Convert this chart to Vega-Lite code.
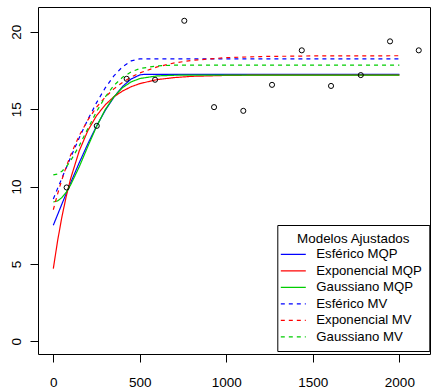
{
  "$schema": "https://vega.github.io/schema/vega-lite/v6.json",
  "width": 392,
  "height": 347,
  "autosize": {"type": "none"},
  "padding": {"left": 38, "top": 7, "right": 1, "bottom": 38},
  "background": "white",
  "config": {
    "view": {"stroke": "black", "strokeWidth": 1},
    "font": "Liberation Sans",
    "axis": {
      "grid": false, "domain": false, "ticks": true, "tickColor": "black", "tickSize": 8, "tickWidth": 1,
      "labelFont": "Liberation Sans", "labelFontSize": 13.5, "labelColor": "black", "title": null
    },
    "legend": {
      "orient": "none", "legendX": 239.3, "legendY": 218,
      "strokeColor": "black", "fillColor": "white", "padding": 7,
      "titleFont": "Liberation Sans", "titleFontSize": 13.4, "titleFontWeight": "normal", "titleColor": "black",
      "titleAnchor": "middle",
      "labelFont": "Liberation Sans", "labelColor": "black", "labelLimit": 200,
      "symbolType": "M-2,0H2", "symbolSize": 156, "symbolStrokeWidth": 1.3
    }
  },
  "datasets": {
    "points": [
      {"h": 77, "g": 9.94}, {"h": 251, "g": 13.92}, {"h": 424, "g": 16.96}, {"h": 588, "g": 16.9},
      {"h": 757, "g": 20.71}, {"h": 929, "g": 15.13}, {"h": 1098, "g": 14.89}, {"h": 1264, "g": 16.57},
      {"h": 1436, "g": 18.8}, {"h": 1605, "g": 16.5}, {"h": 1777, "g": 17.2}, {"h": 1946, "g": 19.38},
      {"h": 2112, "g": 18.8}
    ],
    "curves": [
      {"model": "Esférico MQP", "h": 0, "g": 7.5},
      {"model": "Esférico MQP", "h": 25, "g": 8.19},
      {"model": "Esférico MQP", "h": 50, "g": 8.88},
      {"model": "Esférico MQP", "h": 75, "g": 9.56},
      {"model": "Esférico MQP", "h": 100, "g": 10.24},
      {"model": "Esférico MQP", "h": 150, "g": 11.54},
      {"model": "Esférico MQP", "h": 200, "g": 12.77},
      {"model": "Esférico MQP", "h": 250, "g": 13.91},
      {"model": "Esférico MQP", "h": 300, "g": 14.92},
      {"model": "Esférico MQP", "h": 350, "g": 15.77},
      {"model": "Esférico MQP", "h": 400, "g": 16.46},
      {"model": "Esférico MQP", "h": 450, "g": 16.95},
      {"model": "Esférico MQP", "h": 500, "g": 17.21},
      {"model": "Esférico MQP", "h": 528, "g": 17.25},
      {"model": "Esférico MQP", "h": 2000, "g": 17.25},

      {"model": "Exponencial MQP", "h": 0, "g": 4.7},
      {"model": "Exponencial MQP", "h": 25, "g": 6.51},
      {"model": "Exponencial MQP", "h": 50, "g": 8.06},
      {"model": "Exponencial MQP", "h": 75, "g": 9.38},
      {"model": "Exponencial MQP", "h": 100, "g": 10.51},
      {"model": "Exponencial MQP", "h": 150, "g": 12.31},
      {"model": "Exponencial MQP", "h": 200, "g": 13.62},
      {"model": "Exponencial MQP", "h": 250, "g": 14.58},
      {"model": "Exponencial MQP", "h": 300, "g": 15.28},
      {"model": "Exponencial MQP", "h": 350, "g": 15.8},
      {"model": "Exponencial MQP", "h": 400, "g": 16.17},
      {"model": "Exponencial MQP", "h": 450, "g": 16.45},
      {"model": "Exponencial MQP", "h": 500, "g": 16.65},
      {"model": "Exponencial MQP", "h": 600, "g": 16.91},
      {"model": "Exponencial MQP", "h": 700, "g": 17.04},
      {"model": "Exponencial MQP", "h": 800, "g": 17.12},
      {"model": "Exponencial MQP", "h": 1000, "g": 17.18},
      {"model": "Exponencial MQP", "h": 1200, "g": 17.2},
      {"model": "Exponencial MQP", "h": 2000, "g": 17.2},

      {"model": "Gaussiano MQP", "h": 0, "g": 9.0},
      {"model": "Gaussiano MQP", "h": 25, "g": 9.07},
      {"model": "Gaussiano MQP", "h": 50, "g": 9.29},
      {"model": "Gaussiano MQP", "h": 75, "g": 9.64},
      {"model": "Gaussiano MQP", "h": 100, "g": 10.1},
      {"model": "Gaussiano MQP", "h": 150, "g": 11.28},
      {"model": "Gaussiano MQP", "h": 200, "g": 12.6},
      {"model": "Gaussiano MQP", "h": 250, "g": 13.88},
      {"model": "Gaussiano MQP", "h": 300, "g": 14.97},
      {"model": "Gaussiano MQP", "h": 350, "g": 15.8},
      {"model": "Gaussiano MQP", "h": 400, "g": 16.39},
      {"model": "Gaussiano MQP", "h": 450, "g": 16.76},
      {"model": "Gaussiano MQP", "h": 500, "g": 16.98},
      {"model": "Gaussiano MQP", "h": 600, "g": 17.15},
      {"model": "Gaussiano MQP", "h": 700, "g": 17.19},
      {"model": "Gaussiano MQP", "h": 800, "g": 17.2},
      {"model": "Gaussiano MQP", "h": 2000, "g": 17.2},

      {"model": "Esférico MV", "h": 0, "g": 9.2},
      {"model": "Esférico MV", "h": 25, "g": 9.88},
      {"model": "Esférico MV", "h": 50, "g": 10.55},
      {"model": "Esférico MV", "h": 75, "g": 11.22},
      {"model": "Esférico MV", "h": 100, "g": 11.88},
      {"model": "Esférico MV", "h": 150, "g": 13.15},
      {"model": "Esférico MV", "h": 200, "g": 14.34},
      {"model": "Esférico MV", "h": 250, "g": 15.42},
      {"model": "Esférico MV", "h": 300, "g": 16.37},
      {"model": "Esférico MV", "h": 350, "g": 17.15},
      {"model": "Esférico MV", "h": 400, "g": 17.74},
      {"model": "Esférico MV", "h": 450, "g": 18.12},
      {"model": "Esférico MV", "h": 500, "g": 18.25},
      {"model": "Esférico MV", "h": 2000, "g": 18.25},

      {"model": "Exponencial MV", "h": 0, "g": 8.5},
      {"model": "Exponencial MV", "h": 25, "g": 9.53},
      {"model": "Exponencial MV", "h": 50, "g": 10.46},
      {"model": "Exponencial MV", "h": 75, "g": 11.29},
      {"model": "Exponencial MV", "h": 100, "g": 12.03},
      {"model": "Exponencial MV", "h": 150, "g": 13.3},
      {"model": "Exponencial MV", "h": 200, "g": 14.31},
      {"model": "Exponencial MV", "h": 250, "g": 15.13},
      {"model": "Exponencial MV", "h": 300, "g": 15.78},
      {"model": "Exponencial MV", "h": 350, "g": 16.31},
      {"model": "Exponencial MV", "h": 400, "g": 16.73},
      {"model": "Exponencial MV", "h": 450, "g": 17.07},
      {"model": "Exponencial MV", "h": 500, "g": 17.34},
      {"model": "Exponencial MV", "h": 600, "g": 17.73},
      {"model": "Exponencial MV", "h": 700, "g": 17.99},
      {"model": "Exponencial MV", "h": 800, "g": 18.15},
      {"model": "Exponencial MV", "h": 1000, "g": 18.33},
      {"model": "Exponencial MV", "h": 1200, "g": 18.4},
      {"model": "Exponencial MV", "h": 1500, "g": 18.44},
      {"model": "Exponencial MV", "h": 2000, "g": 18.45},

      {"model": "Gaussiano MV", "h": 0, "g": 10.75},
      {"model": "Gaussiano MV", "h": 25, "g": 10.81},
      {"model": "Gaussiano MV", "h": 50, "g": 10.99},
      {"model": "Gaussiano MV", "h": 75, "g": 11.28},
      {"model": "Gaussiano MV", "h": 100, "g": 11.66},
      {"model": "Gaussiano MV", "h": 150, "g": 12.64},
      {"model": "Gaussiano MV", "h": 200, "g": 13.75},
      {"model": "Gaussiano MV", "h": 250, "g": 14.84},
      {"model": "Gaussiano MV", "h": 300, "g": 15.79},
      {"model": "Gaussiano MV", "h": 350, "g": 16.53},
      {"model": "Gaussiano MV", "h": 400, "g": 17.06},
      {"model": "Gaussiano MV", "h": 450, "g": 17.41},
      {"model": "Gaussiano MV", "h": 500, "g": 17.62},
      {"model": "Gaussiano MV", "h": 600, "g": 17.8},
      {"model": "Gaussiano MV", "h": 700, "g": 17.84},
      {"model": "Gaussiano MV", "h": 800, "g": 17.85},
      {"model": "Gaussiano MV", "h": 2000, "g": 17.85}
    ]
  },
  "layer": [
    {
      "data": {"name": "curves"},
      "mark": {"type": "line", "strokeWidth": 1.2, "clip": true},
      "encoding": {
        "x": {"field": "h", "type": "quantitative",
              "scale": {"domain": [-88.5, 2177], "nice": false, "zero": false},
              "axis": {"values": [0, 500, 1000, 1500, 2000], "format": "d", "labelPadding": 13, "labelFlush": false, "labelOverlap": false}},
        "y": {"field": "g", "type": "quantitative",
              "scale": {"domain": [-0.82, 21.6], "nice": false, "zero": false},
              "axis": {"values": [0, 5, 10, 15, 20], "format": "d", "labelAngle": -90, "labelAlign": "center", "labelBaseline": "bottom", "labelPadding": 7, "labelFlush": false, "labelOverlap": false}},
        "color": {"field": "model", "type": "nominal",
                  "scale": {"domain": ["Esférico MQP", "Exponencial MQP", "Gaussiano MQP", "Esférico MV", "Exponencial MV", "Gaussiano MV"],
                            "range": ["#0000FF", "#FF0000", "#00CD00", "#0000FF", "#FF0000", "#00CD00"]},
                  "legend": {"title": "Modelos Ajustados", "labelFontSize": 13.2, "rowPadding": 2.5, "titlePadding": 2, "symbolOffset": 2, "labelOffset": 16}},
        "strokeDash": {"field": "model", "type": "nominal",
                  "scale": {"domain": ["Esférico MQP", "Exponencial MQP", "Gaussiano MQP", "Esférico MV", "Exponencial MV", "Gaussiano MV"],
                            "range": [[1, 0], [1, 0], [1, 0], [4, 4], [4, 4], [4, 4]]},
                  "legend": {"title": "Modelos Ajustados", "labelFontSize": 13.2, "rowPadding": 2.5, "titlePadding": 2, "symbolOffset": 2, "labelOffset": 16}}
      }
    },
    {
      "data": {"name": "points"},
      "mark": {"type": "point", "shape": "circle", "filled": false, "stroke": "black", "strokeWidth": 1, "size": 26, "opacity": 1},
      "encoding": {
        "x": {"field": "h", "type": "quantitative"},
        "y": {"field": "g", "type": "quantitative"}
      }
    }
  ]
}
